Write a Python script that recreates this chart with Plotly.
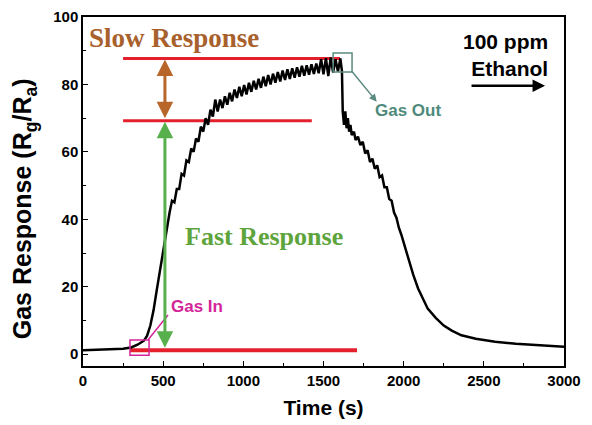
import plotly.graph_objects as go

# ---------------- data ----------------
time_s = [0, 100, 200, 250, 300, 340, 380, 400, 420, 440, 460, 480, 500, 520, 540,
          555, 570, 585, 600, 615, 630, 645, 660, 675, 690, 705, 720, 735, 750, 765,
          780, 795, 810, 825, 840, 855, 870, 885, 900, 915, 930, 945, 960, 975, 990,
          1005, 1020, 1035, 1050, 1065, 1080, 1095, 1110, 1125, 1140, 1155, 1170, 1185,
          1200, 1215, 1230, 1245, 1260, 1275, 1290, 1305, 1320, 1335, 1350, 1365, 1380,
          1395, 1410, 1425, 1440, 1455, 1470, 1485, 1500, 1515, 1530, 1545, 1560, 1575,
          1590, 1605, 1615, 1620, 1628, 1636, 1644, 1652, 1660, 1668, 1676, 1690, 1700,
          1715, 1730, 1745, 1760, 1775, 1790, 1805, 1820, 1835, 1850, 1865, 1880, 1895,
          1910, 1925, 1940, 1955, 1970, 1985, 2000, 2030, 2060, 2090, 2115, 2150, 2200,
          2250, 2300, 2360, 2450, 2570, 2700, 2850, 3000]
response = [1.2, 1.3, 1.4, 1.6, 2.0, 2.8, 4.0, 5.5, 8.5, 13, 19, 25, 31, 37, 42,
            45.5, 45, 49, 49, 53.5, 53, 57.5, 57, 61, 60, 64, 63, 67.5, 66, 70,
            68, 72.5, 70.5, 75.5, 72, 75.5, 73, 76.5, 74, 77.5, 75, 78.5, 76, 79.3, 76.5,
            79.8, 77, 80.5, 77.8, 81.1, 78.5, 81.7, 79, 82.3, 79.5, 82.8, 80, 83.2,
            80.5, 83.7, 80.9, 84.1, 81.3, 84.5, 81.6, 84.8, 82, 85.1, 82.3, 85.5, 82.6,
            85.7, 82.9, 86, 83.1, 86.2, 83.3, 87.5, 83, 87.8, 82.5, 88, 83.5, 87.5,
            83.8, 87.7, 84, 72, 68, 72, 67, 70, 66, 68, 65, 66, 63.5,
            64.5, 62, 63, 59.5, 60.5, 57, 58, 55, 56, 52.5, 53, 49.5, 49.5,
            46, 45.5, 42, 40.5, 37.5, 35.5, 33, 28, 23.5, 19.5, 17, 13.5, 10.8,
            8.5, 7, 5.6, 4.6, 3.7, 3.1, 2.6, 2.2]

x_ticks = [0, 500, 1000, 1500, 2000, 2500, 3000]
y_ticks = [0, 20, 40, 60, 80, 100]

# reference levels (red lines): value, start time, end time
level_values = [87.7, 69.2, 1.2]
level_starts = [250, 250, 293]
level_ends = [1603, 1427, 1709]
arrow_time = 511

# marker boxes: [t0, t1, v0, v1]
gas_in_box = [293, 412, -0.3, 4.2]
gas_out_box = [1560, 1678, 83.7, 89.3]

RED = "#e3202c"
BROWN = "#b8652a"
GREEN = "#58b04c"
MAGENTA = "#d4259a"
TEAL = "#5b8a80"

fig = go.Figure()
fig.add_trace(go.Scatter(x=time_s, y=response, mode="lines",
                         line=dict(color="black", width=2.5), showlegend=False,
                         hoverinfo="skip"))

shapes = []
for v, s, e, w in zip(level_values, level_starts, level_ends, [3, 3, 4]):
    shapes.append(dict(type="line", xref="x", yref="y", x0=s, x1=e, y0=v, y1=v,
                       line=dict(color=RED, width=w), layer="below"))
shapes.append(dict(type="rect", xref="x", yref="y", x0=gas_in_box[0], x1=gas_in_box[1],
                   y0=gas_in_box[2], y1=gas_in_box[3], line=dict(color=MAGENTA, width=1.5)))
shapes.append(dict(type="line", xref="x", yref="y", x0=405, y0=4.2, x1=530, y1=11.6,
                   line=dict(color=MAGENTA, width=1.5)))
shapes.append(dict(type="rect", xref="x", yref="y", x0=gas_out_box[0], x1=gas_out_box[1],
                   y0=gas_out_box[2], y1=gas_out_box[3], line=dict(color=TEAL, width=1.5)))

annotations = [
    # brown double arrow (slow response)
    dict(x=arrow_time, y=level_values[0] - 0.3, ax=arrow_time, ay=level_values[1] + 0.3,
         xref="x", yref="y", axref="x", ayref="y", text="", showarrow=True,
         arrowhead=2, arrowside="end+start", arrowsize=1.1, arrowwidth=3, arrowcolor=BROWN),
    # green double arrow (fast response)
    dict(x=arrow_time, y=level_values[1] - 0.3, ax=arrow_time, ay=level_values[2] + 0.3,
         xref="x", yref="y", axref="x", ayref="y", text="", showarrow=True,
         arrowhead=2, arrowside="end+start", arrowsize=1.1, arrowwidth=3, arrowcolor=GREEN),
    # gas out arrow
    dict(x=1832, y=74.9, ax=1670, ay=84.3, xref="x", yref="y", axref="x", ayref="y",
         text="", showarrow=True, arrowhead=2, arrowsize=1, arrowwidth=1.5, arrowcolor=TEAL),
    # ethanol flow arrow
    dict(x=2882, y=79.6, ax=2414, ay=79.6, xref="x", yref="y", axref="x", ayref="y",
         text="", showarrow=True, arrowhead=2, arrowsize=1, arrowwidth=2.5, arrowcolor="black"),
    dict(x=568, y=93.8, xref="x", yref="y", text="<b>Slow Response</b>", showarrow=False,
         font=dict(family="Liberation Serif", size=27, color="#a8612c")),
    dict(x=1128, y=34.8, xref="x", yref="y", text="<b>Fast Response</b>", showarrow=False,
         font=dict(family="Liberation Serif", size=26, color="#5ea43c")),
    dict(x=714, y=14.2, xref="x", yref="y", text="<b>Gas In</b>", showarrow=False,
         font=dict(family="Liberation Sans", size=17, color=MAGENTA)),
    dict(x=2025, y=72.4, xref="x", yref="y", text="<b>Gas Out</b>", showarrow=False,
         font=dict(family="Liberation Sans", size=17, color="#4f8a7c")),
    dict(x=2635, y=88.8, xref="x", yref="y", text="<b>100 ppm<br>Ethanol</b>",
         showarrow=False, align="right",
         font=dict(family="Liberation Sans", size=21, color="black")),
    # y-axis title
    dict(x=-0.122, y=0.45, xref="paper", yref="paper", xanchor="center", yanchor="middle",
         textangle=-90, showarrow=False,
         text="<b>Gas Response (R<sub>g</sub>/R<sub>a</sub>)</b>",
         font=dict(family="Liberation Sans", size=25, color="black")),
]

axis_common = dict(showline=True, linecolor="black", linewidth=1.5, mirror=True,
                   ticks="inside", ticklen=5, tickwidth=1.2, tickcolor="black",
                   showgrid=False, zeroline=False, automargin=False,
                   tickfont=dict(family="Liberation Sans", size=15, color="black"))

fig.update_layout(
    width=584, height=417,
    margin=dict(l=75, r=28, t=9, b=59),
    paper_bgcolor="white", plot_bgcolor="white",
    shapes=shapes, annotations=annotations,
    xaxis=dict(range=[0, 3000], tickvals=x_ticks,
               ticktext=[f"<b>{v}</b>" for v in x_ticks],
               minor=dict(ticks="inside", ticklen=3, tickcolor="black", dtick=250),
               title=dict(text="<b>Time (s)</b>", standoff=13,
                          font=dict(family="Liberation Sans", size=21, color="black")),
               **axis_common),
    yaxis=dict(range=[-3.5, 100], tickvals=y_ticks,
               ticktext=[f"<b>{v}</b>" for v in y_ticks],
               minor=dict(ticks="inside", ticklen=3, tickcolor="black", dtick=10),
               **axis_common),
)

fig.write_html("out.html")
